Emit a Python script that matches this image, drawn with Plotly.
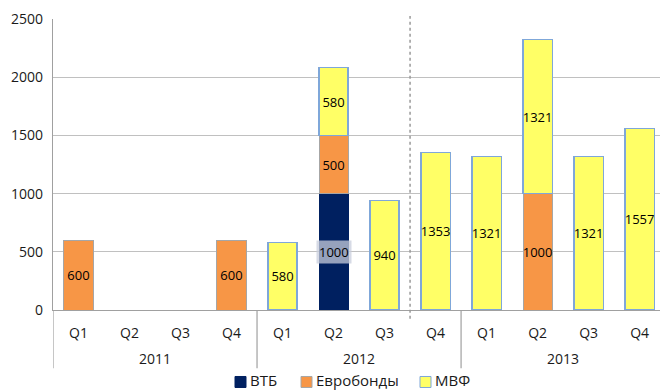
import plotly.graph_objects as go

years = ["2011"] * 4 + ["2012"] * 4 + ["2013"] * 4
quarters = ["Q1", "Q2", "Q3", "Q4"] * 3
vtb = [None, None, None, None, None, 1000, None, None, None, None, None, None]
eurobonds = [600, None, None, 600, None, 500, None, None, None, 1000, None, None]
imf = [None, None, None, None, 580, 580, 940, 1353, 1321, 1321, 1321, 1557]
series_names = ["ВТБ", "Евробонды", "МВФ"]
y_ticks = [0, 500, 1000, 1500, 2000, 2500]

FONT = "Open Sans"
TXT = "#1a1a1a"
colors = ["#002060", "#F79646", "#FFFF66"]
borders = ["#002060", "#A6A6A6", "#7FA7D9"]

cats = [f"{y} {q}" for y, q in zip(years, quarters)]

def labels(vals):
    return [("" if v is None else str(v)) for v in vals]

fig = go.Figure()
fig.add_trace(go.Bar(
    x=cats, y=vtb, name=series_names[0],
    marker=dict(color=colors[0], line=dict(color=borders[0], width=1)),
))
fig.add_trace(go.Bar(
    x=cats, y=eurobonds, name=series_names[1],
    marker=dict(color=colors[1], line=dict(color=borders[1], width=1)),
    text=labels(eurobonds), textposition="inside", insidetextanchor="middle",
    textangle=0, constraintext="none",
    textfont=dict(color="black", size=13, family=FONT),
))
fig.add_trace(go.Bar(
    x=cats, y=imf, name=series_names[2],
    marker=dict(color=colors[2], line=dict(color=borders[2], width=1.2)),
    text=labels(imf), textposition="inside", insidetextanchor="middle",
    textangle=0, constraintext="none",
    textfont=dict(color="black", size=13, family=FONT),
))

# label for the ВТБ bar with light box
for c, v in zip(cats, vtb):
    if v is not None:
        fig.add_annotation(
            x=c, y=v / 2, xref="x", yref="y", text=str(v), showarrow=False,
            font=dict(color="black", size=13, family=FONT),
            bgcolor="rgba(200,205,220,0.75)", borderpad=2,
        )

# dotted separator between 2012 Q3 and Q4
fig.add_shape(type="line", xref="x", yref="paper", x0=6.5, x1=6.5, y0=-0.03, y1=1.01,
              line=dict(color="#999999", width=1.5, dash="dot"))

# year group labels and dividers
year_names = list(dict.fromkeys(years))
for k, yname in enumerate(year_names):
    idx = [i for i, yy in enumerate(years) if yy == yname]
    fig.add_annotation(x=(idx[0] + idx[-1]) / 2, y=-0.168, xref="x", yref="paper",
                       text=yname, showarrow=False, yanchor="middle",
                       font=dict(size=14, family=FONT, color=TXT))
    fig.add_shape(type="line", xref="x", yref="paper", x0=idx[0] - 0.5, x1=idx[0] - 0.5,
                  y0=0, y1=-0.2, line=dict(color="#A0A0A0", width=1.2))

# custom legend
leg_sq = [(235, 246), (301, 312), (420, 431)]
leg_tx = [249, 315, 434]
def px(v):
    return (v - 53) / 607
for name, col, bcol, (a, b), t in zip(series_names, colors, borders, leg_sq, leg_tx):
    fig.add_shape(type="rect", xref="paper", yref="paper", x0=px(a), x1=px(b),
                  y0=-0.2285, y1=-0.2663, fillcolor=col, line=dict(color=bcol, width=1))
    fig.add_annotation(x=px(t), y=-0.2405, xref="paper", yref="paper", text=name,
                       showarrow=False, xanchor="left", yanchor="middle", borderpad=0,
                       font=dict(size=15, family=FONT, color=TXT))

fig.update_layout(
    width=660, height=390,
    margin=dict(l=53, r=0, t=19, b=80),
    paper_bgcolor="white", plot_bgcolor="white",
    barmode="stack", bargap=0.43,
    font=dict(family=FONT, size=13, color=TXT),
    showlegend=False,
)
fig.update_xaxes(
    type="category", range=[-0.5, 11.4],
    tickvals=cats, ticktext=quarters,
    showline=True, linecolor="#A0A0A0", linewidth=1.2,
    ticks="", ticklabelstandoff=10, tickfont=dict(size=14, family=FONT, color=TXT),
    showgrid=False,
)
fig.update_yaxes(
    range=[0, 2500], tickvals=y_ticks, showgrid=True, gridcolor="#C0C0C0", gridwidth=1,
    showline=True, linecolor="#A0A0A0", linewidth=1.2, zeroline=False,
    tickfont=dict(size=14, family=FONT, color=TXT), ticks="", ticklabelstandoff=6,
)
fig.write_html("out.html")
